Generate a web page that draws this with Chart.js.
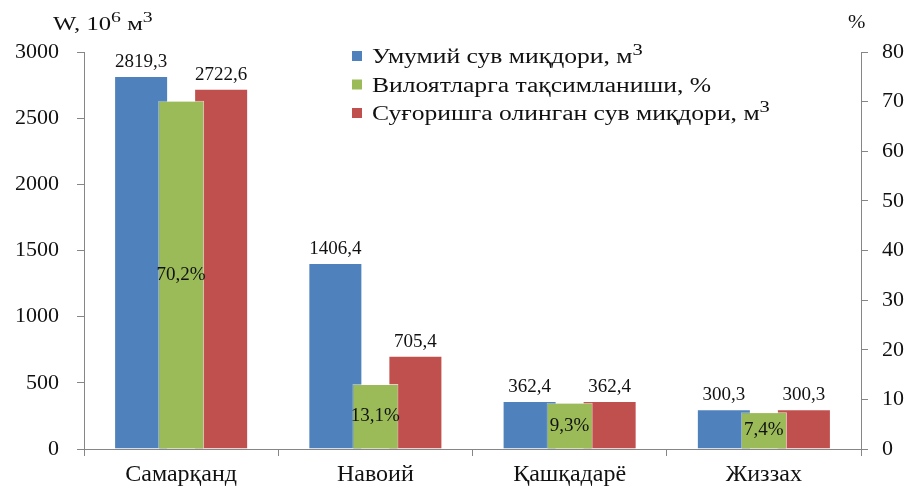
<!DOCTYPE html>
<html>
<head>
<meta charset="utf-8">
<script src="https://cdn.jsdelivr.net/npm/chart.js@4.4.0/dist/chart.umd.min.js"></script>
<style>
  html, body { margin: 0; padding: 0; background: #fff; }
  #wrap { width: 912px; height: 487px; }
</style>
</head>
<body>
<div id="wrap"><canvas id="water" width="912" height="487"></canvas></div>
<script>
// data
const regions = ['Самарқанд', 'Навоий', 'Қашқадарё', 'Жиззах'];
const totalWater = [2819.3, 1406.4, 362.4, 300.3];
const sharePct = [70.2, 13.1, 9.3, 7.4];
const irrigWater = [2722.6, 705.4, 362.4, 300.3];
const leftTicks = [0, 500, 1000, 1500, 2000, 2500, 3000];
const rightTicks = [0, 10, 20, 30, 40, 50, 60, 70, 80];
const seriesNames = ['Умумий сув миқдори, м³', 'Вилоятларга тақсимланиши, %', 'Суғоришга олинган сув миқдори, м³'];
const leftTitle = 'W, 10⁶ м³';
const rightTitle = '%';

const FONT = '"Liberation Serif", "Times New Roman", serif';
const AXIS = '#868686';
const colors = ['#4F81BD', '#9BBB59', '#C0504D'];

const supMap = { '³': '3', '⁶': '6' };

// text with ³ / ⁶ drawn as raised small digits, sx stretches it sideways
function drawRich(ctx, str, x, y, size, sx) {
    var parts = [];
    for (var ch of str) {
        var sup = supMap[ch] !== undefined;
        var t = sup ? supMap[ch] : ch;
        var last = parts[parts.length - 1];
        if (last && last.sup === sup) last.t += t;
        else parts.push({ t: t, sup: sup });
    }
    ctx.save();
    ctx.translate(x, y);
    ctx.scale(sx || 1, 1);
    ctx.textBaseline = 'alphabetic';
    ctx.textAlign = 'left';
    var cx = 0;
    parts.forEach(function (p) {
        ctx.font = (p.sup ? size * 0.8 : size) + 'px ' + FONT;
        ctx.fillText(p.t, cx, p.sup ? -size * 0.42 : 0);
        cx += ctx.measureText(p.t).width;
    });
    ctx.restore();
}

const fmt = v => v.toFixed(1).replace('.', ',');

const extras = {
    id: 'extras',
    afterDatasetsDraw(chart) {
        const ctx = chart.ctx;
        // green series sits in front of the other two
        chart.getDatasetMeta(1).controller.draw();

        ctx.save();
        ctx.fillStyle = '#111';
        chart.data.datasets.forEach(function (ds, i) {
            const meta = chart.getDatasetMeta(i);
            meta.data.forEach(function (bar, j) {
                ctx.font = '19px ' + FONT;
                ctx.textAlign = 'center';
                if (i === 1) {
                    ctx.textBaseline = 'middle';
                    ctx.fillText(fmt(ds.data[j]) + '%', bar.x, (bar.y + bar.base) / 2);
                } else {
                    ctx.textBaseline = 'alphabetic';
                    ctx.fillText(fmt(ds.data[j]), bar.x, bar.y - 9);
                }
            });
        });

        // axis titles
        drawRich(ctx, leftTitle, 53, 30, 19, 1.3);
        drawRich(ctx, rightTitle, 848, 28, 19, 1.1);

        // legend inside the plot
        chart.data.datasets.forEach(function (ds, i) {
            const cy = 56 + i * 28.5;
            ctx.fillStyle = ds.backgroundColor;
            ctx.fillRect(352, cy - 5, 10, 10);
            ctx.fillStyle = '#111';
            drawRich(ctx, ds.label, 372, cy + 7, 20, 1.28);
        });
        ctx.restore();
    }
};

const barStyle = { borderColor: 'rgba(255,255,255,0.45)', borderWidth: 1, categoryPercentage: 0.618 };

const ctx = document.getElementById('water');
new Chart(ctx, {
    type: 'bar',
    data: {
        labels: regions,
        datasets: [
            Object.assign({ label: seriesNames[0], data: totalWater, backgroundColor: colors[0], yAxisID: 'y', barPercentage: 1.35 }, barStyle),
            Object.assign({ label: seriesNames[1], data: sharePct, backgroundColor: colors[1], yAxisID: 'y1', barPercentage: 1.15 }, barStyle),
            Object.assign({ label: seriesNames[2], data: irrigWater, backgroundColor: colors[2], yAxisID: 'y', barPercentage: 1.35 }, barStyle)
        ]
    },
    options: {
        responsive: false,
        animation: false,
        devicePixelRatio: 1,
        layout: { padding: { top: 52, left: 0, right: 0, bottom: 0 } },
        plugins: {
            legend: { display: false },
            tooltip: { enabled: false }
        },
        scales: {
            x: {
                grid: { drawOnChartArea: false, drawTicks: true, tickLength: 7, color: AXIS, offset: true },
                border: { color: AXIS, width: 1 },
                ticks: { color: '#111', font: { family: FONT, size: 24 }, padding: 4 },
                afterFit: s => { s.height = 38; }
            },
            y: {
                position: 'left',
                min: 0, max: 3000,
                afterBuildTicks: s => { s.ticks = leftTicks.map(v => ({ value: v })); },
                grid: { drawOnChartArea: false, drawTicks: true, tickLength: 7, color: AXIS },
                border: { color: AXIS, width: 1 },
                ticks: { color: '#111', font: { family: FONT, size: 22 }, padding: 18, callback: v => String(v) },
                afterFit: s => { s.width = 84; }
            },
            y1: {
                position: 'right',
                min: 0, max: 80,
                afterBuildTicks: s => { s.ticks = rightTicks.map(v => ({ value: v })); },
                grid: { drawOnChartArea: false, drawTicks: true, tickLength: 7, color: AXIS },
                border: { color: AXIS, width: 1 },
                ticks: { color: '#111', font: { family: FONT, size: 22 }, padding: 14, callback: v => String(v) },
                afterFit: s => { s.width = 51; }
            }
        }
    },
    plugins: [extras]
});
</script>
</body>
</html>
